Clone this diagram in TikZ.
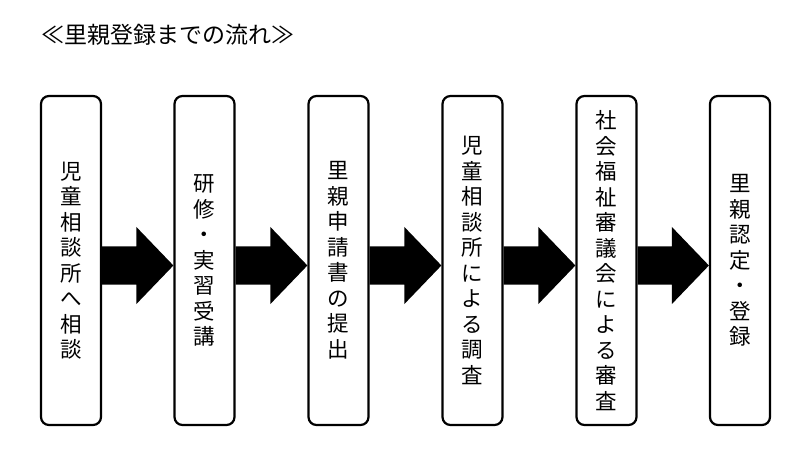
\documentclass[tikz,border=0pt]{standalone}
\usepackage{fontspec}
\setmainfont{Noto Sans CJK JP}
\usetikzlibrary{calc}

\tikzset{
  stepbox/.style={draw, line width=2.2pt, rounded corners=8pt, minimum width=60pt,
    minimum height=329pt, inner sep=0pt, align=center,
    font=\fontsize{21.5}{25.5}\selectfont},
  bigarrow/.style={fill=black}
}

\begin{document}
\begin{tikzpicture}[x=1pt, y=-1pt]
\useasboundingbox (0,0) rectangle (798,457);

% --- Titre ---
\node[anchor=west, inner sep=0pt, font=\fontsize{23}{26}\selectfont] (titre) at (41,35) {≪里親登録までの流れ≫};

% --- Etapes ---
\node[stepbox] (s1) at (71,260.5) {児\\童\\相\\談\\所\\へ\\相\\談};
\node[stepbox] (s2) at (204.5,260.5) {研\\修\\・\\実\\習\\受\\講};
\node[stepbox] (s3) at (338.5,260.5) {里\\親\\申\\請\\書\\の\\提\\出};
\node[stepbox] (s4) at (472.5,260.5) {児\\童\\相\\談\\所\\に\\よ\\る\\調\\査};
\node[stepbox] (s5) at (606.5,260.5) {社\\会\\福\\祉\\審\\議\\会\\に\\よ\\る\\審\\査};
\node[stepbox] (s6) at (740,260.5) {里\\親\\認\\定\\・\\登\\録};

% --- Fleches ---
\foreach \a/\b in {s1/s2, s2/s3, s3/s4, s4/s5, s5/s6}
  \fill[bigarrow] ($(\a.east)+(0,-14)$) -- ($(\b.west)+(-37,-14)$) -- ($(\b.west)+(-37,-33.5)$)
    -- ($(\b.west)+(0,5)$) -- ($(\b.west)+(-37,43.5)$) -- ($(\b.west)+(-37,24)$)
    -- ($(\a.east)+(0,24)$) -- cycle;

\end{tikzpicture}
\end{document}
